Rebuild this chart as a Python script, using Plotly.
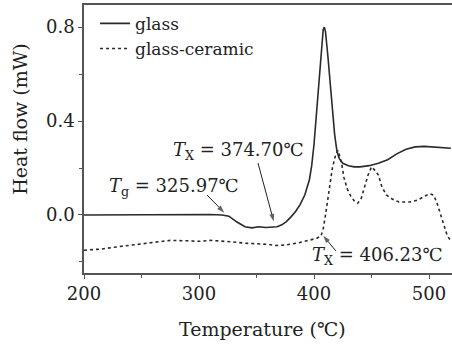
import plotly.graph_objects as go

# Glass (solid) DSC curve
glass_T = [200, 230, 260, 290, 310, 320, 326, 333, 340, 346, 352, 358, 364, 368, 372, 376,
           380, 384, 388, 392, 396, 398, 400, 402, 404, 406, 408, 409, 410, 412, 414, 416,
           418, 420, 422, 425, 430, 435, 440, 448, 456, 464, 472, 480, 488, 496, 504, 512, 519]
glass_v = [0.0, 0.001, 0.002, 0.003, 0.002, 0.0, -0.005, -0.03, -0.05, -0.055, -0.05, -0.053,
           -0.05, -0.05, -0.042, -0.028, -0.008, 0.015, 0.045, 0.085, 0.15, 0.21, 0.3, 0.42,
           0.55, 0.68, 0.79, 0.8, 0.78, 0.68, 0.57, 0.46, 0.34, 0.27, 0.24, 0.22, 0.21, 0.205,
           0.205, 0.21, 0.22, 0.235, 0.26, 0.28, 0.29, 0.292, 0.29, 0.287, 0.284]

# Glass-ceramic (dotted) DSC curve
gc_T = [200, 215, 230, 245, 260, 275, 290, 300, 310, 320, 330, 340, 350, 360, 367, 375, 385,
        395, 402, 406, 408, 410, 413, 416, 419, 421, 424, 426, 429, 432, 435, 438, 441, 444,
        447, 450, 453, 456, 459, 463, 468, 474, 483, 490, 496, 501, 504, 507, 510, 513, 516, 519]
gc_v = [-0.15, -0.145, -0.135, -0.125, -0.115, -0.108, -0.11, -0.112, -0.108, -0.11, -0.115,
        -0.12, -0.122, -0.125, -0.13, -0.128, -0.12, -0.11, -0.1, -0.09, -0.06, 0.0, 0.1, 0.2,
        0.26, 0.275, 0.22, 0.16, 0.11, 0.08, 0.06, 0.05, 0.07, 0.12, 0.17, 0.205, 0.19, 0.17,
        0.12, 0.085, 0.068, 0.055, 0.055, 0.063, 0.08, 0.09, 0.085, 0.05, 0.0, -0.05, -0.09, -0.11]

x_ticks = [200, 300, 400, 500]
y_ticks = [0.0, 0.4, 0.8]
y_tick_labels = ["0.0", "0.4", "0.8"]

# Annotation labels and their arrows: (tail T, tail v) -> (tip T, tip v)
label_text = ["<i>T</i><sub>g</sub> = 325.97\u2103",
              "<i>T</i><sub>X</sub> = 374.70\u2103",
              "<i>T</i><sub>X</sub> = 406.23\u2103"]
label_T = [278, 334, 455]
label_v = [0.119, 0.272, -0.174]
arrow_tail_T = [307, 351.3, 419]
arrow_tail_v = [0.085, 0.221, -0.153]
arrow_tip_T = [322, 365, 408]
arrow_tip_v = [0.01, -0.028, -0.088]

FONT = "DejaVu Serif"
INK = "#222222"

fig = go.Figure()
fig.add_trace(go.Scatter(x=glass_T, y=glass_v, mode="lines", name="glass",
                         line=dict(color="#2a2a2a", width=1.6)))
fig.add_trace(go.Scatter(x=gc_T, y=gc_v, mode="lines", name="glass-ceramic",
                         line=dict(color="#2a2a2a", width=1.6, dash="dot")))

for t, lx, ly in zip(label_text, label_T, label_v):
    fig.add_annotation(x=lx, y=ly, xref="x", yref="y", text=t, showarrow=False,
                       font=dict(family=FONT, size=18, color=INK))

for sx, sy, tx, ty in zip(arrow_tail_T, arrow_tail_v, arrow_tip_T, arrow_tip_v):
    fig.add_trace(go.Scatter(x=[sx, tx], y=[sy, ty], mode="lines+markers", showlegend=False,
                             hoverinfo="skip",
                             line=dict(color="#222222", width=1),
                             marker=dict(symbol="arrow", size=[0, 8], angleref="previous",
                                         color="#222222", line=dict(width=0))))

fig.add_annotation(x=-0.174, y=0.575, xref="paper", yref="paper", text="Heat flow (mW)",
                   textangle=-90, showarrow=False, xanchor="center", yanchor="middle",
                   font=dict(family=FONT, size=19, color=INK))
fig.add_annotation(x=0.484, y=-0.209, xref="paper", yref="paper", text="Temperature (\u2103)",
                   showarrow=False, xanchor="center", yanchor="middle",
                   font=dict(family=FONT, size=19, color=INK))

axis_common = dict(showgrid=False, zeroline=False, showline=True, linecolor="#555555",
                   linewidth=1.5, ticks="outside", ticklen=4, tickwidth=1.3, tickcolor="#555555",
                   tickfont=dict(family=FONT, size=18, color=INK))

fig.update_xaxes(range=[200, 520], tickvals=x_ticks, mirror=True,
                 minor=dict(ticks="outside", ticklen=3, tickwidth=1.3, tickcolor="#555555",
                            dtick=50, tick0=250),
                 **axis_common)
fig.update_yaxes(range=[-0.247, 0.894], tickvals=y_ticks, ticktext=y_tick_labels,
                 minor=dict(ticks="outside", ticklen=3, tickwidth=1.3, tickcolor="#555555",
                            dtick=0.2, tick0=0.2),
                 **axis_common)

fig.update_layout(
    width=452, height=348,
    margin=dict(l=84, r=0, t=5, b=75),
    plot_bgcolor="white", paper_bgcolor="white",
    font=dict(family=FONT, size=18, color=INK),
    showlegend=True,
    legend=dict(x=0.03, y=0.997, xanchor="left", yanchor="top", bgcolor="rgba(0,0,0,0)",
                font=dict(family=FONT, size=17, color=INK), tracegroupgap=0,
                itemwidth=30),
)

fig.write_html("out.html")
